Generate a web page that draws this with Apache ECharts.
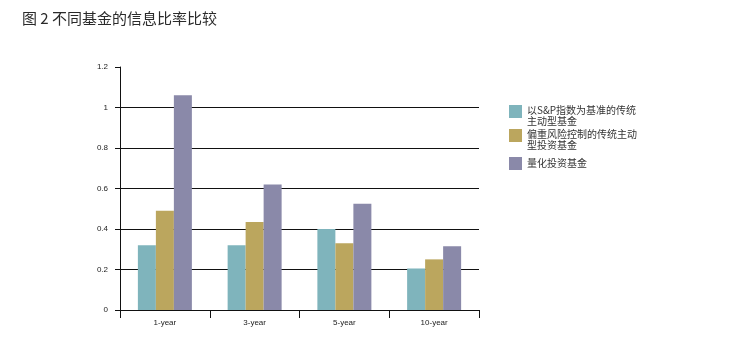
<!DOCTYPE html>
<html>
<head>
<meta charset="utf-8">
<script src="https://cdn.jsdelivr.net/npm/echarts@6/dist/echarts.min.js"></script>
<style>html,body{margin:0;padding:0;background:#fff;}#c{width:738px;height:362px;}</style>
</head>
<body>
<div id="c"></div>
<script>
var categories = ['1-year', '3-year', '5-year', '10-year'];
var seriesNames = ['以S&P指数为基准的传统主动型基金', '偏重风险控制的传统主动型投资基金', '量化投资基金'];
var legendLines = [['以S&P指数为基准的传统', '主动型基金'], ['偏重风险控制的传统主动', '型投资基金'], ['量化投资基金']];
var spActive = [0.32, 0.32, 0.40, 0.205];
var riskActive = [0.49, 0.435, 0.33, 0.25];
var quant = [1.06, 0.62, 0.525, 0.315];
var yTicks = [0, 0.2, 0.4, 0.6, 0.8, 1, 1.2];
var colors = ['#7fb4bc', '#bba65e', '#8a89a9'];

var chart = echarts.init(document.getElementById('c'), null, {renderer: 'canvas'});
var font = 'Liberation Sans, Arial, sans-serif';
var cjk = '"Noto Sans CJK SC", sans-serif';
var values = [spActive, riskActive, quant];
var legendTops = [96.5, 120.5, 157];

var option = {
  animation: false,
  backgroundColor: '#ffffff',
  title: {
    text: '图 2 不同基金的信息比率比较',
    left: 17, top: 6,
    textStyle: {fontFamily: cjk, fontSize: 15, fontWeight: 'normal', color: '#2a2a2a'}
  },
  legend: seriesNames.map(function (n, i) {
    var lines = legendLines[i];
    return {
      data: [n],
      orient: 'vertical',
      left: 509, top: legendTops[i],
      padding: 0,
      itemWidth: 13, itemHeight: 13,
      icon: 'rect',
      selectedMode: false,
      formatter: function () {
        if (lines.length === 1) return '{t|' + lines[0] + '}';
        return '{s| }\n' + lines.map(function (l) { return '{t|' + l + '}'; }).join('\n');
      },
      textStyle: {fontFamily: cjk, fontSize: 10, color: '#333', lineHeight: 11,
        rich: {
          s: {fontSize: 6, lineHeight: 8},
          t: {fontFamily: cjk, fontSize: 10, color: '#333', lineHeight: 11}
        }}
    };
  }),
  grid: {left: 120, right: 259, top: 67, bottom: 52, containLabel: false},
  xAxis: {
    type: 'category',
    data: categories,
    axisLine: {lineStyle: {color: '#111', width: 1}},
    axisTick: {show: true, length: 8, lineStyle: {color: '#111'}},
    axisLabel: {fontFamily: font, fontSize: 8, color: '#222', margin: 9}
  },
  yAxis: {
    type: 'value',
    min: 0, max: 1.2, interval: 0.2,
    axisLine: {show: true, lineStyle: {color: '#111', width: 1}},
    axisTick: {show: true, length: 5, lineStyle: {color: '#111'}},
    axisLabel: {fontFamily: font, fontSize: 8, color: '#222', margin: 12,
      formatter: function (v) { var m = yTicks.filter(function (t) { return Math.abs(t - v) < 1e-9; }); return m.length ? String(m[0]) : ''; }},
    splitLine: {show: true, showMaxLine: false, lineStyle: {color: '#111', width: 1}}
  },
  series: seriesNames.map(function (n, i) {
    return {
      name: n, type: 'bar', data: values[i],
      barWidth: 18, barGap: '0%',
      itemStyle: {color: colors[i]}
    };
  })
};
chart.setOption(option);
</script>
</body>
</html>
